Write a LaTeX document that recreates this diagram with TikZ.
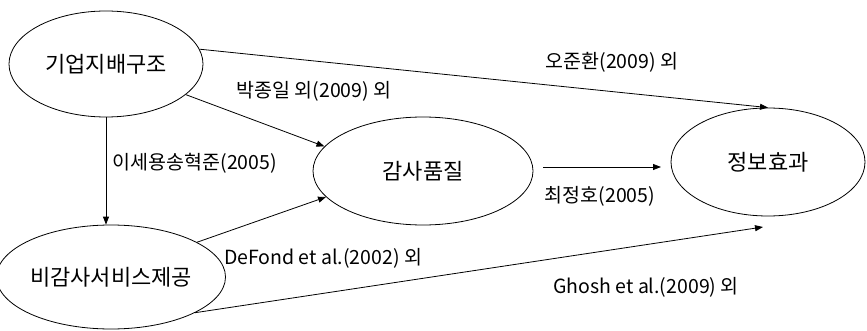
\documentclass[tikz,border=0pt]{standalone}
\usepackage{fontspec}
\setmainfont{Noto Sans CJK KR}
\usetikzlibrary{shapes.geometric,arrows.meta}
\begin{document}
\begin{tikzpicture}[x=1pt,y=1pt,
  ell/.style={ellipse,draw,line width=0.8pt,inner sep=0pt,font=\fontsize{22}{26}\selectfont},
  lbl/.style={inner sep=0pt,font=\fontsize{19.5}{23}\selectfont},
  arr/.style={line width=0.8pt,-{Triangle[length=8pt,width=6pt]}}]
\useasboundingbox (0,0) rectangle (867,330);
\node[ell,minimum width=194pt,minimum height=106pt] (e1) at (106,266) {기업지배구조};
\node[ell,minimum width=202pt,minimum height=104pt] (e2) at (111,53) {비감사서비스제공};
\node[ell,minimum width=220pt,minimum height=108pt] (e3) at (423,159) {감사품질};
\node[ell,minimum width=194pt,minimum height=108pt] (e4) at (768,168) {정보효과};
\coordinate (g) at (763,103);
\coordinate (p) at (543,163);
\coordinate (q) at (661,163);
\draw[arr] (e1.9) -- (e4.north);
\draw[arr] (e1.-21) -- (e3.166);
\draw[arr] (e1.south) -- (e1.south |- e2.north);
\draw[arr] (e2.22) -- (e3.195);
\draw[arr] (e2.-23) -- (g);
\draw[arr] (p) -- (q);
\node[lbl] (l1) at (612,268) {오준환(2009) 외};
\node[lbl] (l2) at (314,239) {박종일 외(2009) 외};
\node[lbl] (l3) at (195,167) {이세용송혁준(2005)};
\node[lbl] (l4) at (323,72) {DeFond et al.(2002) 외};
\node[lbl] (l5) at (646,43) {Ghosh et al.(2009) 외};
\node[lbl] (l6) at (600,134) {최정호(2005)};
\end{tikzpicture}
\end{document}
